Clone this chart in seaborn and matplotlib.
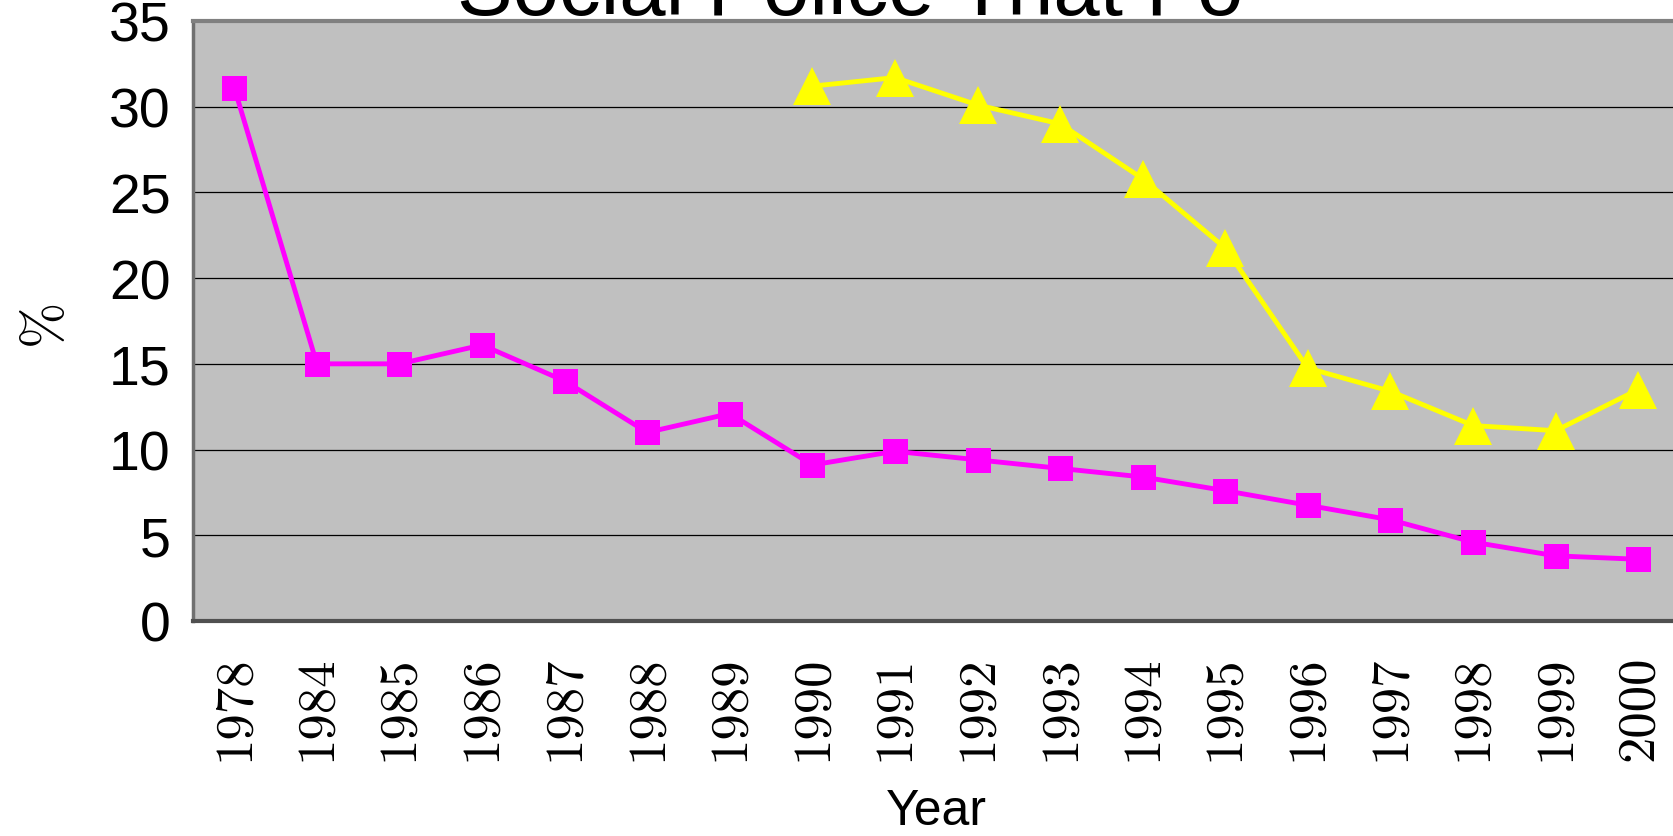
import seaborn as sns
import matplotlib.pyplot as plt
import numpy as np
import pandas as pd

# Data
years = ['1978', '1984', '1985', '1986', '1987', '1988', '1989', '1990',
         '1991', '1992', '1993', '1994', '1995', '1996', '1997', '1998',
         '1999', '2000']
pink_values = [31.1, 15.0, 15.0, 16.1, 14.0, 11.0, 12.1, 9.1, 9.9, 9.4,
               8.9, 8.4, 7.6, 6.75, 5.9, 4.6, 3.8, 3.6]
yellow_years = ['1990', '1991', '1992', '1993', '1994', '1995', '1996',
                '1997', '1998', '1999', '2000']
yellow_values = [31.2, 31.7, 30.1, 29.0, 25.8, 21.75, 14.75, 13.4, 11.4,
                 11.1, 13.5]
y_ticks = [0, 5, 10, 15, 20, 25, 30, 35]

# Build frames using category positions
pos = {y: i for i, y in enumerate(years)}
df_pink = pd.DataFrame({'x': [pos[y] for y in years], 'value': pink_values})
df_yellow = pd.DataFrame({'x': [pos[y] for y in yellow_years],
                          'value': yellow_values})

# Style
sns.set_theme(style="white")
plt.rcParams['font.family'] = ['Liberation Sans', 'DejaVu Sans']
plt.rcParams['text.color'] = 'black'
plt.rcParams['axes.labelcolor'] = 'black'
plt.rcParams['xtick.color'] = 'black'
plt.rcParams['ytick.color'] = 'black'

fig = plt.figure(figsize=(16.74, 8.37), dpi=100)
ax = fig.add_axes([0.1153, 0.2569, 0.888, 1 - 22 / 837 - 0.2569])
ax.set_facecolor('#C0C0C0')

# Series
sns.lineplot(data=df_pink, x='x', y='value', ax=ax, color='#FF00FF',
             linewidth=3.5, marker='s', markersize=18, markeredgewidth=0,
             zorder=3)
sns.lineplot(data=df_yellow, x='x', y='value', ax=ax, color='#FFFF00',
             linewidth=3.5, marker='^', markersize=27, markeredgewidth=0,
             zorder=4)

# Axes limits and grid
ax.set_xlim(-0.5, len(years) - 0.5)
ax.set_ylim(0, 35)
ax.set_yticks(y_ticks)
ax.set_yticklabels([str(t) for t in y_ticks], fontsize=40)
ax.yaxis.grid(True, color='black', linewidth=0.9)
ax.set_axisbelow(True)

# Category boundaries as major ticks, labels on minor ticks
ax.set_xticks(np.arange(-0.5, len(years), 1.0))
ax.set_xticklabels([])
ax.set_xticks(np.arange(len(years)), minor=True)
ax.set_xticklabels(years, minor=True, rotation=90, fontsize=38,
                   family='cmr10')
ax.tick_params(axis='x', which='major', direction='inout', length=21,
               width=1, color='black')
ax.tick_params(axis='x', which='minor', length=0, pad=24)
ax.tick_params(axis='y', direction='out', length=10, width=1,
               color='black', pad=6)

# Spines
ax.spines['top'].set_color('#808080')
ax.spines['top'].set_linewidth(3)
ax.spines['left'].set_color('#707070')
ax.spines['left'].set_linewidth(2.5)
ax.spines['bottom'].set_color('#505050')
ax.spines['bottom'].set_linewidth(3)
ax.spines['right'].set_visible(False)

# Labels
ax.set_xlabel('Year', fontsize=36, labelpad=20)
ax.set_ylabel('%', fontsize=40, family='cmr10', labelpad=28)

# Title is clipped at the top edge of the picture
fig.text(0.508, 1 - 15 / 837, 'Social Police That Fo', fontsize=60,
         ha='center', va='baseline')

plt.savefig('out.png', dpi=100)
